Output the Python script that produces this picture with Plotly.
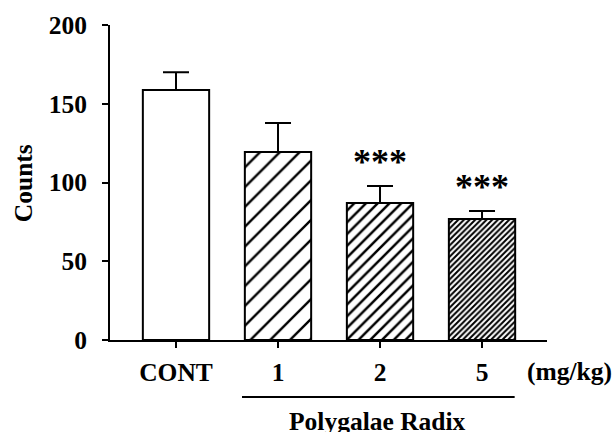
import plotly.graph_objects as go

categories = ["CONT", "1", "2", "5"]
counts = [158.7, 119.4, 87.0, 76.8]
sem = [11.3, 18.4, 10.8, 5.1]
stars = ["", "", "***", "***"]
pattern_shapes = ["", "/", "/", "/"]
pattern_sizes = [8, 14.0, 8.3, 4.0]
pattern_solidity = [0.2, 0.17, 0.3, 0.5]

FONT = "Liberation Serif"
FS = 25.5

fig = go.Figure()
fig.add_trace(go.Bar(
    x=categories,
    y=counts,
    width=0.65,
    marker=dict(
        color="white",
        line=dict(color="black", width=2),
        pattern=dict(
            shape=pattern_shapes,
            size=pattern_sizes,
            solidity=pattern_solidity,
            fgcolor="black",
            fgopacity=1,
            bgcolor="white",
            fillmode="overlay",
        ),
    ),
    error_y=dict(
        type="data",
        symmetric=False,
        array=sem,
        arrayminus=[0] * len(sem),
        color="black",
        thickness=2,
        width=13,
    ),
    showlegend=False,
))

for i, (v, e, s) in enumerate(zip(counts, sem, stars)):
    if s:
        fig.add_annotation(
            x=i, y=v + e, text=s, showarrow=False,
            yanchor="middle", yshift=24,
            font=dict(family=FONT, size=36, color="black", weight="bold"),
        )

fig.add_annotation(
    x=1.051, xref="paper", y=-0.1, yref="paper", text="(mg/kg)",
    showarrow=False, xanchor="center", yanchor="middle",
    font=dict(family=FONT, size=FS, color="black", weight="bold"),
)
fig.add_annotation(
    x=1.98, xref="x", y=-0.26, yref="paper", text="Polygalae Radix",
    showarrow=False, xanchor="center", yanchor="middle",
    font=dict(family=FONT, size=FS, color="black", weight="bold"),
)
fig.add_annotation(
    x=-0.199, xref="paper", y=0.498, yref="paper", text="Counts",
    showarrow=False, textangle=-90, xanchor="center", yanchor="middle",
    font=dict(family=FONT, size=FS, color="black", weight="bold"),
)
fig.add_shape(
    type="line", xref="x", yref="paper",
    x0=0.647, x1=3.32, y0=-0.181, y1=-0.181,
    line=dict(color="black", width=2),
)

fig.update_layout(
    width=613, height=432,
    margin=dict(l=110, r=66, t=25, b=92, autoexpand=False),
    plot_bgcolor="white", paper_bgcolor="white",
    font=dict(family=FONT, size=FS, color="black", weight="bold"),
    bargap=0.35,
)
fig.update_xaxes(
    type="category",
    range=[-0.647, 3.637],
    showline=True, linecolor="black", linewidth=2,
    ticks="outside", ticklen=6, tickwidth=2, tickcolor="black",
    showgrid=False, zeroline=False,
    tickfont=dict(family=FONT, size=FS, color="black", weight="bold"),
    ticklabelstandoff=2,
)
fig.update_yaxes(
    range=[0, 200], tickvals=[0, 50, 100, 150, 200],
    showline=True, linecolor="black", linewidth=2,
    ticks="outside", ticklen=6, tickwidth=2, tickcolor="black",
    showgrid=False, zeroline=False,
    tickfont=dict(family=FONT, size=FS, color="black", weight="bold"),
    ticklabelstandoff=10,
)

fig.write_html("out.html", config={"displayModeBar": False},
               post_script="document.body.style.margin='0';")
